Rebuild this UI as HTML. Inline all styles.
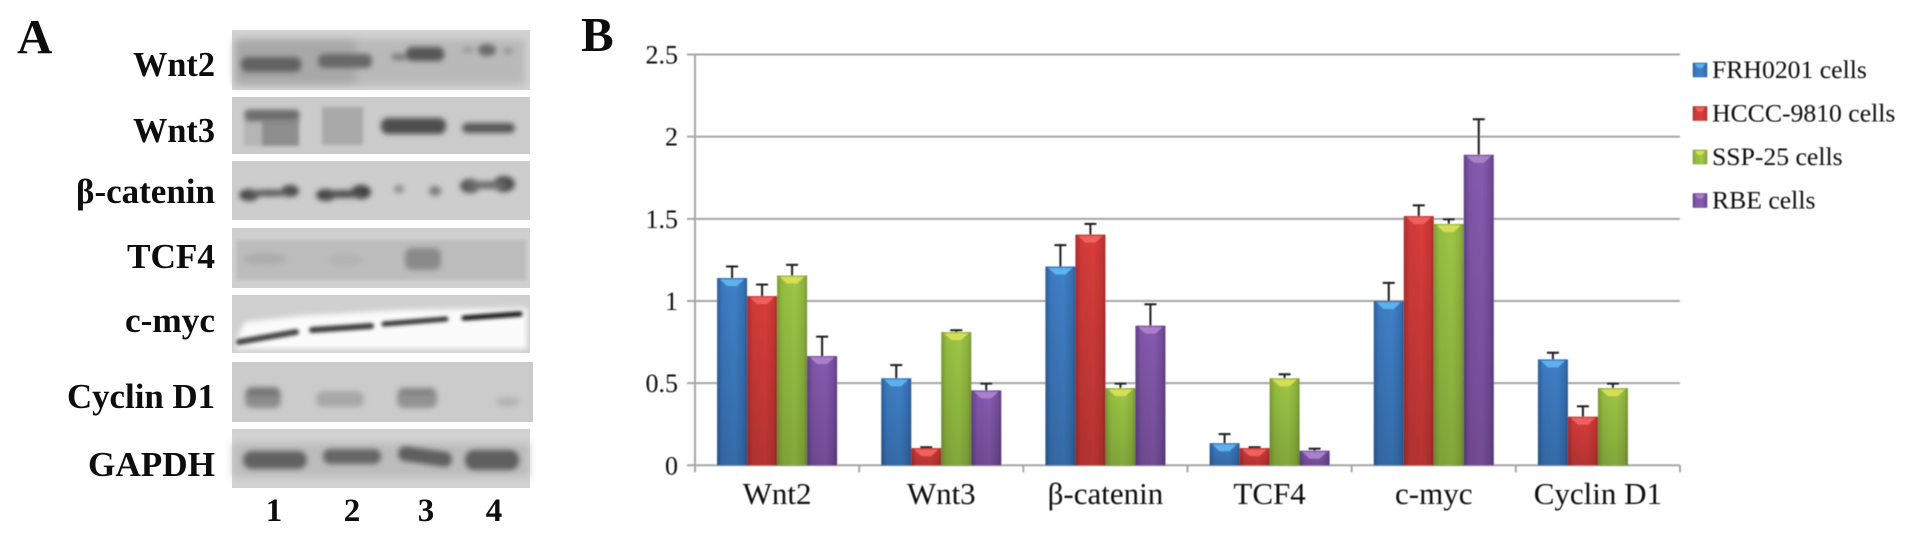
<!DOCTYPE html>
<html lang="en">
<head>
<meta charset="utf-8">
<title>Western blot and expression chart</title>
<style>
html,body{margin:0;padding:0;background:#fff;width:1913px;height:540px;overflow:hidden}
svg{display:block;position:absolute;left:0;top:0}
text{font-family:"Liberation Serif","Noto Serif CJK SC",serif;fill:#0a0a0a}
.blot-label{font-weight:bold;font-size:35px;text-anchor:end}
.lane{font-weight:bold;font-size:33px;text-anchor:middle}
.panel-letter{font-weight:bold;font-size:49px}
.soft{filter:url(#soft)}
</style>
</head>
<body>
<svg id="figure" width="1913" height="540" viewBox="0 0 1913 540" xmlns="http://www.w3.org/2000/svg">
<defs>
<filter id="b1" x="-30%" y="-60%" width="160%" height="220%"><feGaussianBlur stdDeviation="2.6"/></filter>
<filter id="b2" x="-30%" y="-60%" width="160%" height="220%"><feGaussianBlur stdDeviation="1.8"/></filter>
<filter id="b3" x="-10%" y="-20%" width="120%" height="140%"><feGaussianBlur stdDeviation="4"/></filter>
<filter id="soft" x="-5%" y="-5%" width="110%" height="110%"><feGaussianBlur stdDeviation="0.5"/></filter>
<filter id="textsoft" x="-5%" y="-5%" width="110%" height="110%"><feGaussianBlur stdDeviation="0.35"/></filter>
<linearGradient id="grad-blue" x1="0" x2="1" y1="0" y2="0"><stop offset="0" stop-color="#2a5f9e"/><stop offset=".18" stop-color="#3c79bf"/><stop offset=".6" stop-color="#4080c8"/><stop offset=".9" stop-color="#3570b2"/><stop offset="1" stop-color="#285a94"/></linearGradient>
<linearGradient id="grad-red" x1="0" x2="1" y1="0" y2="0"><stop offset="0" stop-color="#a82c2c"/><stop offset=".18" stop-color="#cf3a38"/><stop offset=".6" stop-color="#d83d3b"/><stop offset=".9" stop-color="#c53533"/><stop offset="1" stop-color="#a02a2a"/></linearGradient>
<linearGradient id="grad-green" x1="0" x2="1" y1="0" y2="0"><stop offset="0" stop-color="#7c9c33"/><stop offset=".18" stop-color="#94bd40"/><stop offset=".6" stop-color="#9dc847"/><stop offset=".9" stop-color="#8db23d"/><stop offset="1" stop-color="#76952f"/></linearGradient>
<linearGradient id="grad-purple" x1="0" x2="1" y1="0" y2="0"><stop offset="0" stop-color="#5f3f85"/><stop offset=".18" stop-color="#7f55a8"/><stop offset=".6" stop-color="#875cb0"/><stop offset=".9" stop-color="#744c9c"/><stop offset="1" stop-color="#5a3a7e"/></linearGradient>
<linearGradient id="shade" x1="0" x2="0" y1="0" y2="1"><stop offset="0" stop-color="#000" stop-opacity="0"/><stop offset="1" stop-color="#000" stop-opacity=".16"/></linearGradient>
</defs>

<g id="panel-a">
<g filter="url(#textsoft)">
<text class="panel-letter" x="17" y="53">A</text>
<text class="blot-label" x="215" y="76" textLength="82" lengthAdjust="spacingAndGlyphs">Wnt2</text>
<text class="blot-label" x="215" y="142" textLength="82" lengthAdjust="spacingAndGlyphs">Wnt3</text>
<text class="blot-label" x="215" y="203" textLength="139" lengthAdjust="spacingAndGlyphs">β-catenin</text>
<text class="blot-label" x="215" y="268" textLength="88" lengthAdjust="spacingAndGlyphs">TCF4</text>
<text class="blot-label" x="215" y="332" textLength="90" lengthAdjust="spacingAndGlyphs">c-myc</text>
<text class="blot-label" x="215" y="408" textLength="148" lengthAdjust="spacingAndGlyphs">Cyclin D1</text>
<text class="blot-label" x="215" y="476" textLength="127" lengthAdjust="spacingAndGlyphs">GAPDH</text>
</g>

<g>
<rect x="232" y="30" width="298" height="60" fill="#d2d2d2"/>
<rect x="235" y="39" width="290" height="46" fill="#b9b9b9" filter="url(#b3)"/>
<rect x="236" y="41" width="120" height="42" fill="#a8a8a8" filter="url(#b3)"/>
<g filter="url(#b1)">
<rect x="241" y="57" width="60" height="15" rx="6" fill="#626262"/>
<rect x="318" y="54" width="54" height="14" rx="6" fill="#676767"/>
<rect x="406" y="47" width="38" height="14" rx="6" fill="#565656"/>
<ellipse cx="399" cy="57" rx="8" ry="3.5" fill="#7d7d7d"/>
<ellipse cx="487" cy="50" rx="9" ry="6" fill="#6a6a6a"/>
<ellipse cx="468" cy="50" rx="6" ry="3" fill="#9c9c9c"/>
<ellipse cx="508" cy="51" rx="5" ry="3" fill="#959595"/>
</g>
</g>

<g>
<rect x="232" y="97" width="298" height="57" fill="#cbcbcb"/>
<g filter="url(#b2)">
<rect x="244" y="110" width="55" height="36" fill="#b5b5b5"/>
<rect x="262" y="120" width="37" height="26" fill="#8e8e8e"/>
<rect x="322" y="107" width="41" height="38" fill="#a9a9a9"/>
</g>
<g filter="url(#b1)">
<rect x="245" y="110" width="54" height="11" rx="4" fill="#6c6c6c"/>
<rect x="381" y="118" width="65" height="16" rx="7" fill="#4e4e4e"/>
<rect x="462" y="123" width="53" height="10" rx="5" fill="#575757"/>
</g>
</g>

<g>
<rect x="232" y="161" width="298" height="59" fill="#cdcdcd"/>
<g filter="url(#b1)">
<ellipse cx="249" cy="195" rx="10" ry="6" fill="#4a4a4a"/>
<ellipse cx="290" cy="191" rx="9" ry="6" fill="#4a4a4a"/>
<ellipse cx="270" cy="193" rx="22" ry="3.5" fill="#5c5c5c"/>
<ellipse cx="326" cy="195" rx="10" ry="6" fill="#444"/>
<ellipse cx="361" cy="192" rx="10" ry="7" fill="#404040"/>
<ellipse cx="344" cy="194" rx="20" ry="4" fill="#505050"/>
<ellipse cx="399" cy="189" rx="5" ry="4" fill="#8c8c8c"/>
<ellipse cx="435" cy="191" rx="6" ry="5" fill="#7c7c7c"/>
<ellipse cx="470" cy="186" rx="10" ry="7" fill="#565656"/>
<ellipse cx="504" cy="184" rx="11" ry="8" fill="#4c4c4c"/>
<ellipse cx="487" cy="185" rx="20" ry="4" fill="#6e6e6e"/>
</g>
</g>

<g>
<rect x="232" y="228" width="298" height="60" fill="#cfcfcf"/>
<rect x="236" y="240" width="290" height="40" fill="#bcbcbc" filter="url(#b2)"/>
<g filter="url(#b1)">
<ellipse cx="265" cy="259" rx="22" ry="6" fill="#adadad"/>
<ellipse cx="345" cy="260" rx="18" ry="6" fill="#b4b4b4"/>
<rect x="405" y="248" width="36" height="22" rx="7" fill="#8a8a8a"/>
</g>
</g>

<g>
<rect x="232" y="295" width="298" height="58" fill="#d0d0d0"/>
<polygon points="245,322 300,316 400,310 527,308 527,349 236,349 236,340" fill="#fbfbfb" filter="url(#b1)"/>
<g filter="url(#b2)" fill="none" stroke-linecap="round">
<line x1="239" y1="342" x2="296" y2="332" stroke="#444" stroke-width="6"/>
<line x1="312" y1="330" x2="371" y2="326" stroke="#3e3e3e" stroke-width="6"/>
<line x1="384" y1="324" x2="446" y2="319" stroke="#333" stroke-width="5"/>
<line x1="464" y1="318" x2="520" y2="314" stroke="#111" stroke-width="5"/>
</g>
</g>

<g>
<rect x="232" y="362" width="301" height="60" fill="#cbcbcb"/>
<g filter="url(#b1)">
<rect x="245" y="387" width="36" height="21" rx="7" fill="#8c8c8c"/>
<rect x="247" y="388" width="32" height="8" rx="4" fill="#767676"/>
<rect x="316" y="391" width="48" height="16" rx="7" fill="#a8a8a8"/>
<rect x="397" y="388" width="40" height="20" rx="7" fill="#929292"/>
<rect x="400" y="388" width="34" height="7" rx="3" fill="#828282"/>
<ellipse cx="508" cy="402" rx="12" ry="5" fill="#b4b4b4"/>
</g>
</g>

<g>
<rect x="232" y="429" width="298" height="59" fill="#d2d2d2"/>
<rect x="233" y="443" width="296" height="34" fill="#bcbcbc" filter="url(#b3)"/>
<g filter="url(#b1)">
<rect x="243" y="451" width="64" height="18" rx="9" fill="#626262"/>
<rect x="323" y="449" width="58" height="15" rx="7" fill="#666"/>
<rect x="398" y="449" width="54" height="15" rx="7" fill="#5e5e5e" transform="rotate(8 425 457)"/>
<rect x="465" y="450" width="54" height="20" rx="9" fill="#5e5e5e"/>
</g>
</g>

<g filter="url(#textsoft)">
<text class="lane" x="274" y="521">1</text>
<text class="lane" x="352" y="521">2</text>
<text class="lane" x="426" y="521">3</text>
<text class="lane" x="494" y="521">4</text>
</g>
</g>

<g id="panel-b">
<text class="panel-letter" x="581" y="51" filter="url(#textsoft)">B</text>
<g id="chart" class="soft"></g>
</g>
</svg>

<script>
var categories = ["Wnt2", "Wnt3", "β-catenin", "TCF4", "c-myc", "Cyclin D1"];
var seriesNames = ["FRH0201 cells", "HCCC-9810 cells", "SSP-25 cells", "RBE cells"];
var frh0201Values = [1.14, 0.53, 1.21, 0.135, 1.0, 0.645];
var hccc9810Values = [1.03, 0.105, 1.404, 0.105, 1.517, 0.296];
var ssp25Values = [1.155, 0.811, 0.47, 0.53, 1.469, 0.47];
var rbeValues = [0.665, 0.456, 0.85, 0.089, 1.89, null];
var frh0201Errors = [0.07, 0.08, 0.13, 0.055, 0.11, 0.04];
var hccc9810Errors = [0.07, 0.005, 0.065, 0.005, 0.065, 0.063];
var ssp25Errors = [0.065, 0.011, 0.027, 0.024, 0.028, 0.027];
var rbeErrors = [0.118, 0.041, 0.13, 0.012, 0.216, null];
var yTickValues = [0, 0.5, 1, 1.5, 2, 2.5];
var yTickLabels = ["0", "0.5", "1", "1.5", "2", "2.5"];

var plotLeft = 695, plotRight = 1680, plotBottom = 465.3, plotTop = 54.5, yMax = 2.5;
var allValues = [frh0201Values, hccc9810Values, ssp25Values, rbeValues];
var allErrors = [frh0201Errors, hccc9810Errors, ssp25Errors, rbeErrors];
var seriesKeys = ["blue", "red", "green", "purple"];
var bevelColors = ["#5cb2ec", "#f0605c", "#d8de52", "#ab80ca"];
var swatchEdges = ["#2a5f9e", "#a82c2c", "#7c9c33", "#5f3f85"];

function yScale(v) { return plotBottom - (v / yMax) * (plotBottom - plotTop); }
function groupWidth() { return (plotRight - plotLeft) / categories.length; }
function groupLeft(i) { return plotLeft + i * groupWidth(); }
function barWidth() { return groupWidth() * 0.731 / seriesNames.length; }
function barLeft(i, s) { return groupLeft(i) + (groupWidth() - barWidth() * seriesNames.length) / 2 + s * barWidth(); }

var chart = document.getElementById("chart");
var NS = "http://www.w3.org/2000/svg";
function make(tag, attrs, parent) {
  var el = document.createElementNS(NS, tag);
  for (var k in attrs) { el.setAttribute(k, attrs[k]); }
  (parent || chart).appendChild(el);
  return el;
}

yTickValues.forEach(function (v, i) {
  var y = yScale(v);
  var grid = make("line", { x1: plotLeft - 8, x2: plotRight, y1: y, y2: y, stroke: "#a6a6a6", "stroke-width": 2 });
  
  
  var label = make("text", { x: 678, y: y + 9, "text-anchor": "end", "font-size": 26 });
  label.textContent = yTickLabels[i];
  
  
});

var yAxis = make("line", { x1: plotLeft, x2: plotLeft, y1: plotTop, y2: plotBottom + 7, stroke: "#a6a6a6", "stroke-width": 2 });



categories.forEach(function (name, i) {
  var tx = groupLeft(i + 1);
  var tick = make("line", { x1: tx, x2: tx, y1: plotBottom, y2: plotBottom + 7, stroke: "#a6a6a6", "stroke-width": 2 });
  
  
  var label = make("text", { x: groupLeft(i) + groupWidth() / 2, y: 504, "text-anchor": "middle", "font-size": 31 });
  label.textContent = name;
  
  
});

allValues.forEach(function (values, s) {
  values.forEach(function (v, i) {
    if (v === null) { return; }
    var x = barLeft(i, s), w = barWidth(), y = yScale(v), h = plotBottom - y;
    var bevel = Math.min(8, h * 0.55);
    var e = allErrors[s][i];
    var cx = x + w / 2, ey = yScale(v + e);

    var stem = make("line", { x1: cx, x2: cx, y1: y, y2: ey, stroke: "#1c1c1c", "stroke-width": 2 });
    
    
    var cap = make("line", { x1: cx - 6, x2: cx + 6, y1: ey, y2: ey, stroke: "#1c1c1c", "stroke-width": 2 });
    
    

    var bar = make("rect", { x: x, y: y, width: w, height: h, fill: "url(#grad-" + seriesKeys[s] + ")" });
    
    
    var shade = make("rect", { x: x, y: y, width: w, height: h, fill: "url(#shade)" });
    
    
    var top = make("polygon", {
      points: (x + 3) + "," + (y + 1.5) + " " + (x + w - 3) + "," + (y + 1.5) + " " + (x + w - 10) + "," + (y + bevel) + " " + (x + 10) + "," + (y + bevel),
      fill: bevelColors[s]
    });
    
    
  });
});

seriesNames.forEach(function (name, s) {
  var baseY = 78 + s * 43.5;
  var swatch = make("rect", { x: 1693, y: baseY - 15, width: 14, height: 14, fill: "url(#grad-" + seriesKeys[s] + ")", stroke: swatchEdges[s], "stroke-width": 0.5 });
  
  
  var mark = make("polygon", {
    points: "1695," + (baseY - 14) + " 1705," + (baseY - 14) + " 1702," + (baseY - 10) + " 1698," + (baseY - 10),
    fill: bevelColors[s]
  });
  
  
  var label = make("text", { x: 1712, y: baseY, "font-size": 25.7 });
  label.textContent = name;
  
  
});
</script>
</body>
</html>
